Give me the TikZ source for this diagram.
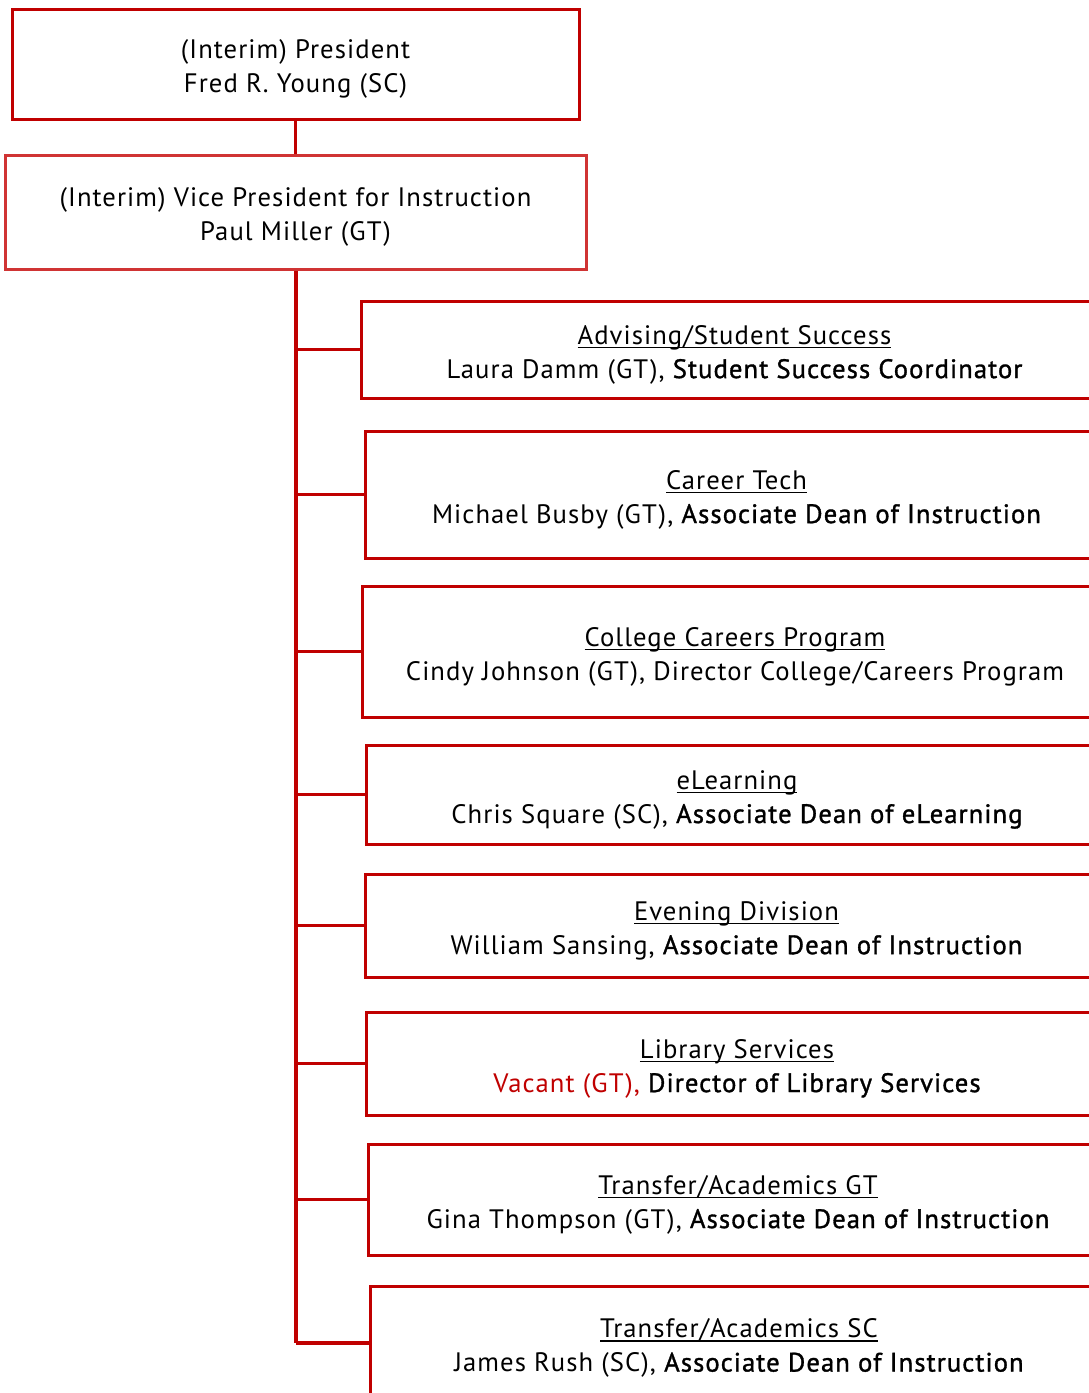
\documentclass[tikz,border=0pt]{standalone}
\usepackage{fontspec}
\setmainfont{PT Sans}[LetterSpace=4]
\newfontfamily\medfont[FakeBold=1.2,LetterSpace=4]{PT Sans}
\definecolor{dred}{HTML}{C00000}
\definecolor{lred}{HTML}{D03434}
\newcommand\ulx[1]{\setbox0\hbox{#1}\rlap{\rule[-3pt]{\wd0}{0.9pt}}\box0}
\tikzset{
  orgbox/.style={draw=dred, line width=2.25pt, fill=white, inner sep=0pt},
  txt/.style={align=center, inner sep=0pt, yshift=-3.75pt,
    font=\fontsize{20}{25.5}\selectfont},
  conn/.style={draw=dred, line width=2.5pt},
  trunk/.style={draw=dred, line width=3pt}
}
\begin{document}
\begin{tikzpicture}[x=0.75pt,y=-0.75pt]
\useasboundingbox (0,0) rectangle (1089,1393);
\clip (0,0) rectangle (1089,1393);
\fill[white] (0,0) rectangle (1089,1393);

\node[orgbox, minimum width=567*0.75pt, minimum height=110*0.75pt] (pres) at (295.5,64) {};
\node[txt] (prest) at (pres.center) {(Interim) President\\Fred R. Young (SC)};
\node[orgbox, draw=lred, minimum width=581*0.75pt, minimum height=114*0.75pt] (vp) at (295.5,212) {};
\node[txt] (vpt) at (vp.center) {(Interim) Vice President for Instruction\\Paul Miller (GT)};

\node[orgbox, minimum width=747*0.75pt, minimum height=97*0.75pt] (adv) at (734.5,349.5) {};
\node[txt] (advt) at (adv.center)
  {\ulx{Advising/Student Success}\\Laura Damm (GT), {\medfont Student Success Coordinator}};
\node[orgbox, minimum width=743*0.75pt, minimum height=127*0.75pt] (car) at (736.5,494.5) {};
\node[txt] (cart) at (car.center)
  {\ulx{Career Tech}\\Michael Busby (GT), {\medfont Associate Dean of Instruction}};
\node[orgbox, minimum width=746*0.75pt, minimum height=131*0.75pt] (ccp) at (735,651.5) {};
\node[txt] (ccpt) at (ccp.center)
  {\ulx{College Careers Program}\\Cindy Johnson (GT), Director College/Careers Program};
\node[orgbox, minimum width=742*0.75pt, minimum height=99*0.75pt] (elr) at (737,794.5) {};
\node[txt] (elrt) at (elr.center)
  {\ulx{eLearning}\\Chris Square (SC), {\medfont Associate Dean of eLearning}};
\node[orgbox, minimum width=743*0.75pt, minimum height=103*0.75pt] (evd) at (736.5,925.5) {};
\node[txt] (evdt) at (evd.center)
  {\ulx{Evening Division}\\William Sansing, {\medfont Associate Dean of Instruction}};
\node[orgbox, minimum width=742*0.75pt, minimum height=103*0.75pt] (lib) at (737,1063.5) {};
\node[txt] (libt) at (lib.center)
  {\ulx{Library Services}\\{\color{dred}Vacant (GT),} {\medfont Director of Library Services}};
\node[orgbox, minimum width=740*0.75pt, minimum height=111*0.75pt] (tgt) at (738,1199.5) {};
\node[txt] (tgtt) at (tgt.center)
  {\ulx{Transfer/Academics GT}\\Gina Thompson (GT), {\medfont Associate Dean of Instruction}};
\node[orgbox, minimum width=738*0.75pt, minimum height=114*0.75pt] (tsc) at (739,1343) {};
\node[txt] (tsct) at (tsc.center)
  {\ulx{Transfer/Academics SC}\\James Rush (SC), {\medfont Associate Dean of Instruction}};

\draw[conn] (pres.south) -- (vp.north);
\draw[trunk] (vp.south) -- (vp.south |- tsc.west);
\foreach \c in {adv,car,ccp,elr,evd,lib,tgt,tsc}
  \draw[conn] (vp.south |- \c.west) -- (\c.west);
\end{tikzpicture}
\end{document}
